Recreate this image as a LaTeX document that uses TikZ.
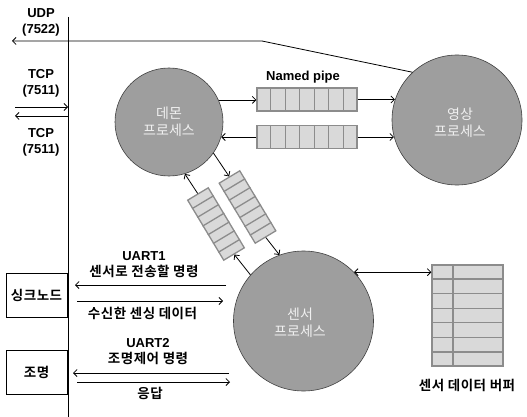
\documentclass[tikz,border=0pt]{standalone}
\usepackage{fontspec}
\setmainfont{Liberation Sans}
\newfontfamily\kr{Noto Sans CJK KR}[BoldFont={Noto Sans CJK KR Bold}]
\newfontfamily\krs{Noto Sans CJK KR}[BoldFont={Noto Sans CJK KR Bold},LetterSpace=4]
\usetikzlibrary{arrows.meta,calc}
\tikzset{
  tip/.tip={Straight Barb[length=3.5pt,width=7pt,line width=0.8pt]},
  arr/.style={draw=black, line width=0.8pt, -tip},
  darr/.style={draw=black, line width=0.8pt, tip-tip},
  plain/.style={draw=black, line width=0.8pt},
  proc/.style={circle, draw=black!75, fill=black!38, line width=0.6pt, inner sep=0},
  ptxt/.style={text=white!94!black, font=\kr\fontsize{14}{17}\selectfont, align=center, inner sep=0},
  pipe/.style={draw=black!45, fill=black!15, line width=1.3pt, inner sep=0},
  cell/.style={draw=black!45, line width=1.3pt},
  lbl/.style={font=\bfseries\fontsize{13}{16}\selectfont, align=center, inner sep=0},
  devbox/.style={draw=black, line width=0.6pt, minimum width=61, minimum height=44, inner sep=0, font=\krs\bfseries\fontsize{13.5}{16}\selectfont},
}
\newcommand{\kl}{\krs\bfseries\fontsize{13.5}{16}\selectfont}
\begin{document}
\begin{tikzpicture}[x=1pt,y=-1pt]
\useasboundingbox (0,0) rectangle (527,417);
% vertical line
\coordinate (vtop) at (68,17);
\coordinate (vbot) at (68,417);
\draw[plain] (vtop) -- (vbot);
% processes
\node[proc, minimum size=108] (dm) at (169,122) {};
\node[ptxt] at (169,122) {데몬\\프로세스};
\node[proc, minimum size=130] (ys) at (457,120) {};
\node[ptxt] at (460,123) {영상\\프로세스};
\node[proc, minimum size=140] (ss) at (303.5,321) {};
\node[ptxt] at (300,323) {센서\\프로세스};
% horizontal pipes
\node[pipe, minimum width=100, minimum height=23] (p1) at (307,99.5) {};
\node[pipe, minimum width=100, minimum height=23] (p2) at (307,137) {};
% diagonal pipes
\node[pipe, rotate=-59, minimum width=70, minimum height=24] (p3) at (216,224) {};
\node[pipe, rotate=-59, minimum width=70, minimum height=24] (p4) at (247.5,207) {};
\foreach \p in {p1,p2,p3,p4}{
  \foreach \i in {1,...,6}{
    \draw[cell] ($(\p.north west)!\i/7!(\p.north east)$) -- ($(\p.south west)!\i/7!(\p.south east)$);
  }
}
% buffer
\node[pipe, minimum width=71, minimum height=101] (buf) at (467.5,315.5) {};
\foreach \i in {1,...,6}{
  \draw[cell] ($(buf.north west)!\i/7!(buf.south west)$) -- ($(buf.north east)!\i/7!(buf.south east)$);
}
\draw[cell] ($(buf.north west)!0.3!(buf.north east)$) -- ($(buf.south west)!0.3!(buf.south east)$);
% labels
\node[lbl] (np) at (303,77) {Named pipe};
\node[lbl] (sdb) at (467,385) {\kl 센서 데이터 버퍼};
\node[lbl] (udp) at (41,22) {UDP\\(7522)};
\node[lbl] (tcp1) at (41,83) {TCP\\(7511)};
\node[lbl] (tcp2) at (41,142) {TCP\\(7511)};
\node[lbl] (u1) at (144,264.5) {UART1\\{\kl 센서로 전송할 명령}};
\node[lbl] (u1b) at (142.5,313) {\kl 수신한 센싱 데이터};
\node[lbl] (u2) at (148,351.5) {UART2\\{\kl 조명제어 명령}};
\node[lbl] (u2b) at (150,393) {\kl 응답};
% device boxes
\node[devbox] (sink) at (36.5,295) {싱크노드};
\node[devbox] (light) at (36.5,372) {조명};
% pipe connectors
\draw[arr] (dm.24) -- (dm.24 -| p1.west);
\draw[arr] (p1.east) -- (p1.east -| ys.162);
\draw[arr] (p2.west) -- (p2.west -| dm.-16);
\draw[arr] (p2.east) -- (p2.east -| ys.195);
\draw[arr] (dm.-35) -- (p4.west);
\draw[arr] (p4.east) -- (ss.110);
\draw[arr] (ss.139) -- (p3.east);
\draw[arr] (p3.west) -- (dm.-73);
\draw[darr] (ss.44) -- (ss.44 -| buf.west);
% UDP
\coordinate (udpbend) at (262,41);
\coordinate (udpend) at (12,41);
\draw[arr] (ys.133) -- (udpbend) -- (udpend);
% TCP
\coordinate (tcpa) at (15,107);
\coordinate (tcpb) at (15,116);
\draw[arr] (tcpa) -- (tcpa -| vtop);
\draw[arr] (tcpb -| vtop) -- (tcpb);
% UART
\coordinate (a1s) at (226,285); \coordinate (a1e) at (75,285);
\coordinate (a2s) at (77,301); \coordinate (a2e) at (223,301);
\coordinate (a3s) at (229,373); \coordinate (a3e) at (73,373);
\coordinate (a4s) at (77,382); \coordinate (a4e) at (230,382);
\draw[arr] (a1s) -- (a1e);
\draw[arr] (a2s) -- (a2e);
\draw[arr] (a3s) -- (a3e);
\draw[arr] (a4s) -- (a4e);
\end{tikzpicture}
\end{document}
